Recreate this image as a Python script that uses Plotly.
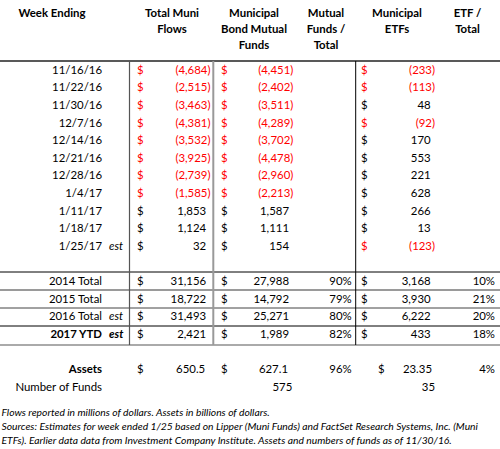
import plotly.graph_objects as go

# ---------------- data ----------------
weeks = ["11/16/16", "11/22/16", "11/30/16", "12/7/16", "12/14/16", "12/21/16",
         "12/28/16", "1/4/17", "1/11/17", "1/18/17", "1/25/17"]
week_est = [False, False, False, False, False, False, False, False, False, False, True]
total_flows = [-4684, -2515, -3463, -4381, -3532, -3925, -2739, -1585, 1853, 1124, 32]
fund_flows = [-4451, -2402, -3511, -4289, -3702, -4478, -2960, -2213, 1587, 1111, 154]
etf_flows = [-233, -113, 48, -92, 170, 553, 221, 628, 266, 13, -123]

total_labels = ["2014 Total", "2015 Total", "2016 Total", "2017 YTD"]
total_est = [False, False, True, True]
total_bold = [False, False, False, True]
year_total = [31156, 18722, 31493, 2421]
year_funds = [27988, 14792, 25271, 1989]
year_fund_share = [90, 79, 80, 82]
year_etf = [3168, 3930, 6222, 433]
year_etf_share = [10, 21, 20, 18]

assets_total = "650.5"
assets_funds = "627.1"
assets_fund_share = 96
assets_etf = "23.35"
assets_etf_share = 4
num_funds = 575
num_etfs = 35

headers = [
    ["Week Ending"],
    ["Total Muni", "Flows"],
    ["Municipal", "Bond Mutual", "Funds"],
    ["Mutual", "Funds /", "Total"],
    ["Municipal", "ETFs"],
    ["ETF /", "Total"],
]
footnotes = [
    "Flows reported in millions of dollars. Assets in billions of dollars.",
    "Sources: Estimates for week ended 1/25 based on Lipper (Muni Funds) and FactSet Research Systems, Inc. (Muni",
    "ETFs). Earlier data data from Investment Company Institute. Assets and numbers of funds as of 11/30/16.",
]

# ---------------- layout constants ----------------
W, H = 500, 449
ROW0, PITCH = 71, 17.6
BLACK, RED = "#000000", "#ff0000"
FONT = "Lato"
FS = 11.4
PAREN = 4.3

LABEL_R = 102
EST_L = 109
C1_D, C1_R = 137, 210.5
C2_D, C2_R = 221, 293.3
C3_R = 351.7
C4_D, C4_R = 361, 435
C5_R = 495
HEAD_X = [52, 172, 254, 326, 397, 467.5]
HEAD_Y = [14, 30, 46]

items = []


def add(x, y, text, pos="middle left", color=BLACK, bold=False, italic=False, size=FS):
    items.append(dict(x=x, y=y, text=text, pos=pos, color=color,
                      bold=bold, italic=italic, size=size))


def money(dx, rx, y, v):
    neg = v < 0
    col = RED if neg else BLACK
    txt = f"({-v:,})" if neg else f"{v:,}"
    add(dx, y, "$", "middle right", col)
    add(rx if neg else rx - PAREN, y, txt, "middle left", col)


def row_y(i):
    return ROW0 + PITCH * i


# headers
for hx, lines in zip(HEAD_X, headers):
    for j, t in enumerate(lines):
        add(hx, HEAD_Y[j], t, "middle center", bold=True)

# weekly rows
for i, wk in enumerate(weeks):
    y = row_y(i)
    add(LABEL_R, y, wk)
    if week_est[i]:
        add(EST_L, y, "est", "middle right", italic=True)
    money(C1_D, C1_R, y, total_flows[i])
    money(C2_D, C2_R, y, fund_flows[i])
    money(C4_D, C4_R, y, etf_flows[i])

# yearly totals
for k, lab in enumerate(total_labels):
    y = row_y(12 + k)
    b = total_bold[k]
    add(LABEL_R, y, lab, bold=b)
    if total_est[k]:
        add(EST_L, y, "est", "middle right", italic=True, bold=b)
    money(C1_D, C1_R, y, year_total[k])
    money(C2_D, C2_R, y, year_funds[k])
    add(C3_R, y, f"{year_fund_share[k]}%")
    money(C4_D, C4_R, y, year_etf[k])
    add(C5_R, y, f"{year_etf_share[k]}%")

# assets
y = row_y(17)
add(LABEL_R, y, "Assets", bold=True)
add(C1_D, y, "$", "middle right")
add(C1_R - PAREN - 1, y, assets_total)
add(C2_D, y, "$", "middle right")
add(C2_R - PAREN - 1, y, assets_funds)
add(C3_R, y, f"{assets_fund_share}%")
add(378, y, "$", "middle right")
add(C4_R - 3, y, assets_etf)
add(C5_R, y, f"{assets_etf_share}%")

y = row_y(18)
add(LABEL_R, y, "Number of Funds")
add(C2_R - 1, y, f"{num_funds}")
add(C4_R, y, f"{num_etfs}")

# footnotes
for j, t in enumerate(footnotes):
    add(1.5, 413 + 14 * j, t, "middle right", italic=True, size=10.3)

# ---------------- figure ----------------
fig = go.Figure()
groups = {}
for it in items:
    key = (it["pos"], it["bold"], it["italic"], it["size"])
    groups.setdefault(key, []).append(it)

for (pos, bold, italic, size), its in groups.items():
    fig.add_trace(go.Scatter(
        x=[i["x"] for i in its], y=[i["y"] for i in its],
        text=[i["text"] for i in its], mode="text", textposition=pos,
        textfont=dict(family=FONT, size=size, color=[i["color"] for i in its],
                      weight="bold" if bold else "normal",
                      style="italic" if italic else "normal"),
        hoverinfo="skip", cliponaxis=False, showlegend=False,
    ))

shapes = []
def hline(yv, color, w):
    shapes.append(dict(type="line", xref="x", yref="y", x0=0, x1=W, y0=yv, y1=yv,
                       line=dict(color=color, width=w)))
def vline(xv, color, w):
    shapes.append(dict(type="line", xref="x", yref="y", x0=xv, x1=xv, y0=61, y1=345,
                       line=dict(color=color, width=w)))

hline(61, "#222222", 1.5)
hline(272, "#000000", 1)
hline(290, "#9a9a9a", 2)
hline(308, "#444444", 1)
hline(326, "#000000", 1)
hline(345, "#aaaaaa", 2)
vline(129.5, "#555555", 1.2)
vline(213.3, "#999999", 2)
vline(355.7, "#000000", 1)

fig.update_layout(
    width=W, height=H, margin=dict(l=0, r=0, t=0, b=0),
    paper_bgcolor="white", plot_bgcolor="white", shapes=shapes,
    xaxis=dict(range=[0, W], visible=False, fixedrange=True),
    yaxis=dict(range=[H, 0], visible=False, fixedrange=True),
)
fig.write_html("out.html", config={"displayModeBar": False},
               post_script="document.body.style.margin='0';document.body.style.overflow='hidden';")
